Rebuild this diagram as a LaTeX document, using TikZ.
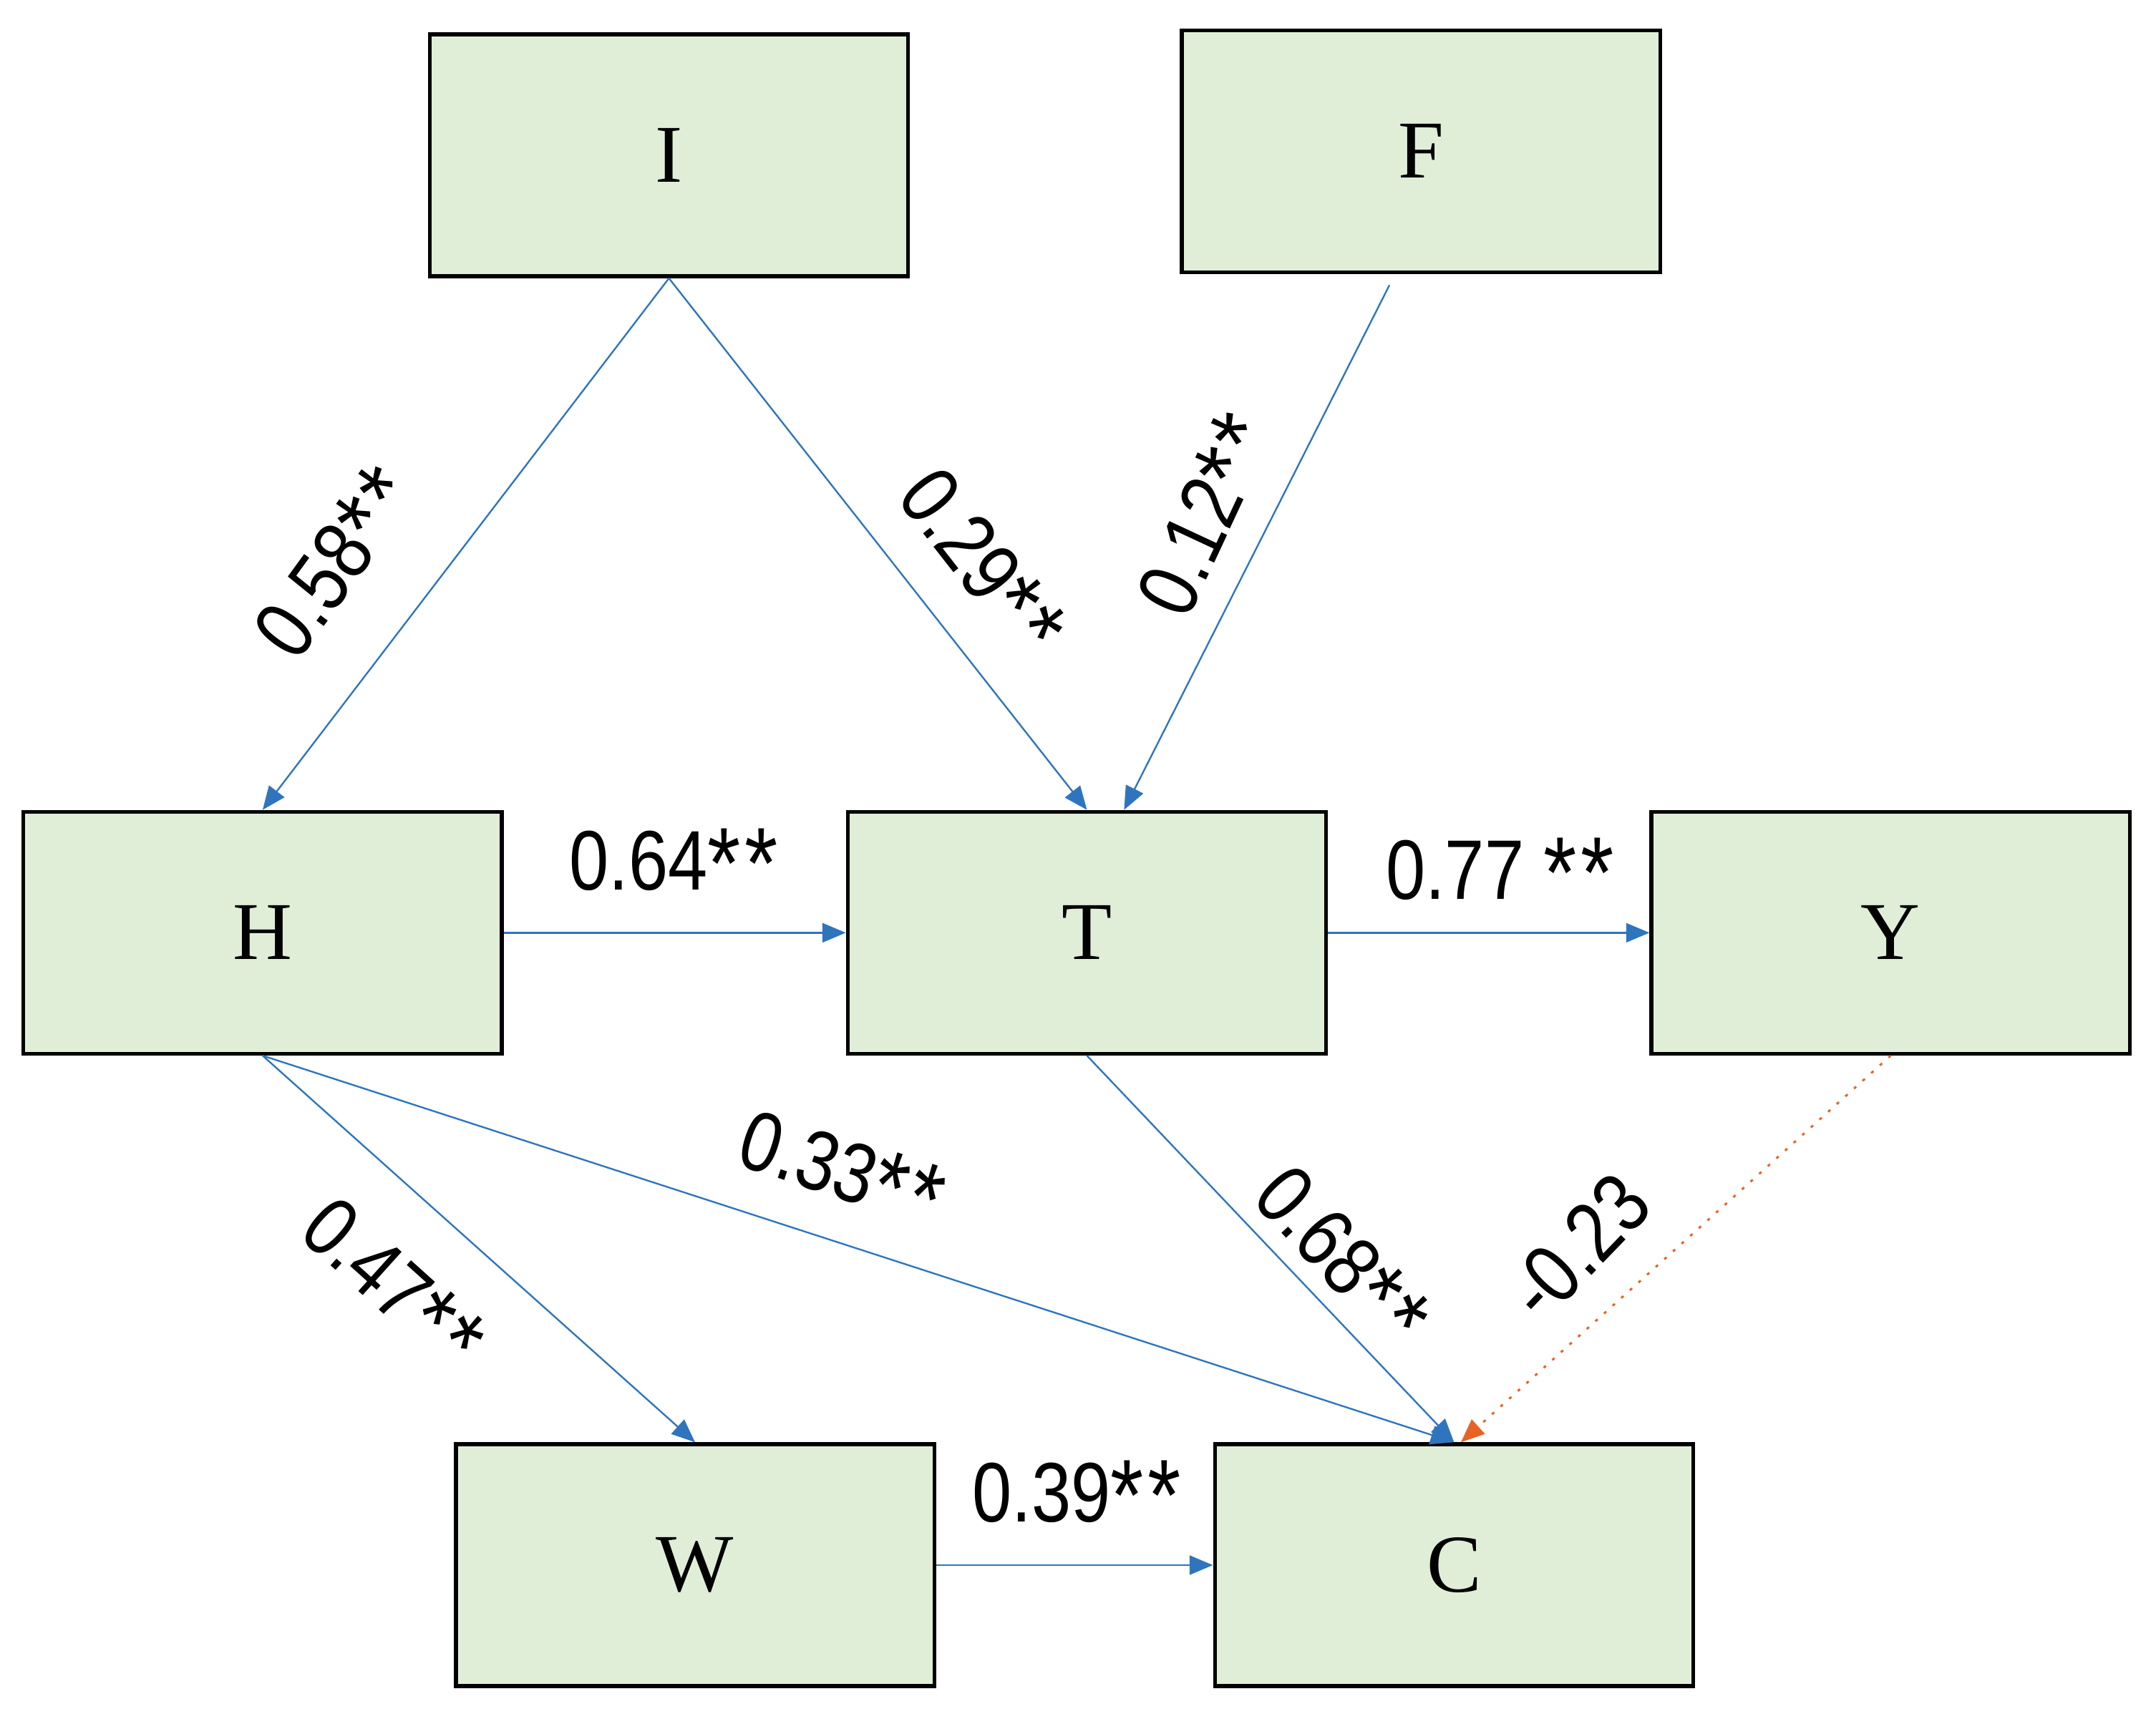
\documentclass[tikz,border=0pt]{standalone}
\usepackage{fontspec}
\setmainfont{Liberation Serif}
\newfontfamily\labelfont[FakeStretch=0.84]{Liberation Sans}
\usetikzlibrary{arrows.meta,calc}
\definecolor{boxfill}{RGB}{224,238,216}
\definecolor{pathblue}{RGB}{46,117,190}
\definecolor{negorange}{RGB}{232,98,38}
% significance marks, set a little larger than the digits
\newcommand\sigstars{\raisebox{-0.1em}{\fontsize{42}{42}\selectfont*\kern0.04em*}}
\begin{document}
\begin{tikzpicture}[x=0.02cm,y=-0.02cm,
  var/.style={draw=black, line width=1.6pt, fill=boxfill,
    minimum width=6.96cm, minimum height=3.52cm, inner sep=0pt,
    font=\fontsize{34}{40}\selectfont},
  coef/.style={font=\labelfont\fontsize{35}{40}\selectfont, inner sep=0pt},
  link/.style={draw=pathblue, line width=0.7pt,
    -{Triangle[length=0.34cm,width=0.28cm]}},
  neglink/.style={draw=negorange, line width=0.9pt,
    dash pattern=on 1.2pt off 3.6pt,
    -{Triangle[length=0.34cm,width=0.28cm]}}
]
\useasboundingbox (0,0) rectangle (1568,1250);

% variables
\node[var] (I) at (486.5,113)  {I};
\node[var] (F) at (1033.5,110) {F};
\node[var] (H) at (191,678.5)  {H};
\node[var] (T) at (790.5,678.5) {T};
\node[var] (Y) at (1375,678.5) {Y};
\node[var] (W) at (505.5,1138.5) {W};
\node[var] (C) at (1057.5,1138.5) {C};

% paths
\draw[link] (I.south) -- (H.north);
\draw[link] (I.south) -- (T.north);
\draw[link] ($(F.south)+(-23,8)$) -- ($(T.north)+(27,0)$);
\draw[link] (H.east) -- (T.west);
\draw[link] (T.east) -- (Y.west);
\draw[link] (H.south) -- (W.north);
\draw[link] (H.south) -- (C.north);
\draw[link] (T.south) -- (C.north);
\draw[link] (W.east) -- (C.west);
\draw[neglink] (Y.south) -- ($(C.north)+(5,0)$);

% coefficients
\node[coef, rotate=54]  (cIH) at (245,410)  {0.58\sigstars};
\node[coef, rotate=-52] (cIT) at (713,410)  {0.29\sigstars};
\node[coef, rotate=65]  (cFT) at (878,375)  {0.12\sigstars};
\node[coef]             (cHT) at (490,628)  {0.64\sigstars};
\node[coef]             (cTY) at (1091,635) {0.77 \sigstars};
\node[coef, rotate=-42] (cHW) at (285,935)  {0.47\sigstars};
\node[coef, rotate=-18] (cHC) at (612,852)  {0.33\sigstars};
\node[coef, rotate=-47] (cTC) at (975,915)  {0.68\sigstars};
\node[coef, rotate=46]  (cYC) at (1148,907) {-0.23};
\node[coef]             (cWC) at (783,1088) {0.39\sigstars};
\end{tikzpicture}
\end{document}
